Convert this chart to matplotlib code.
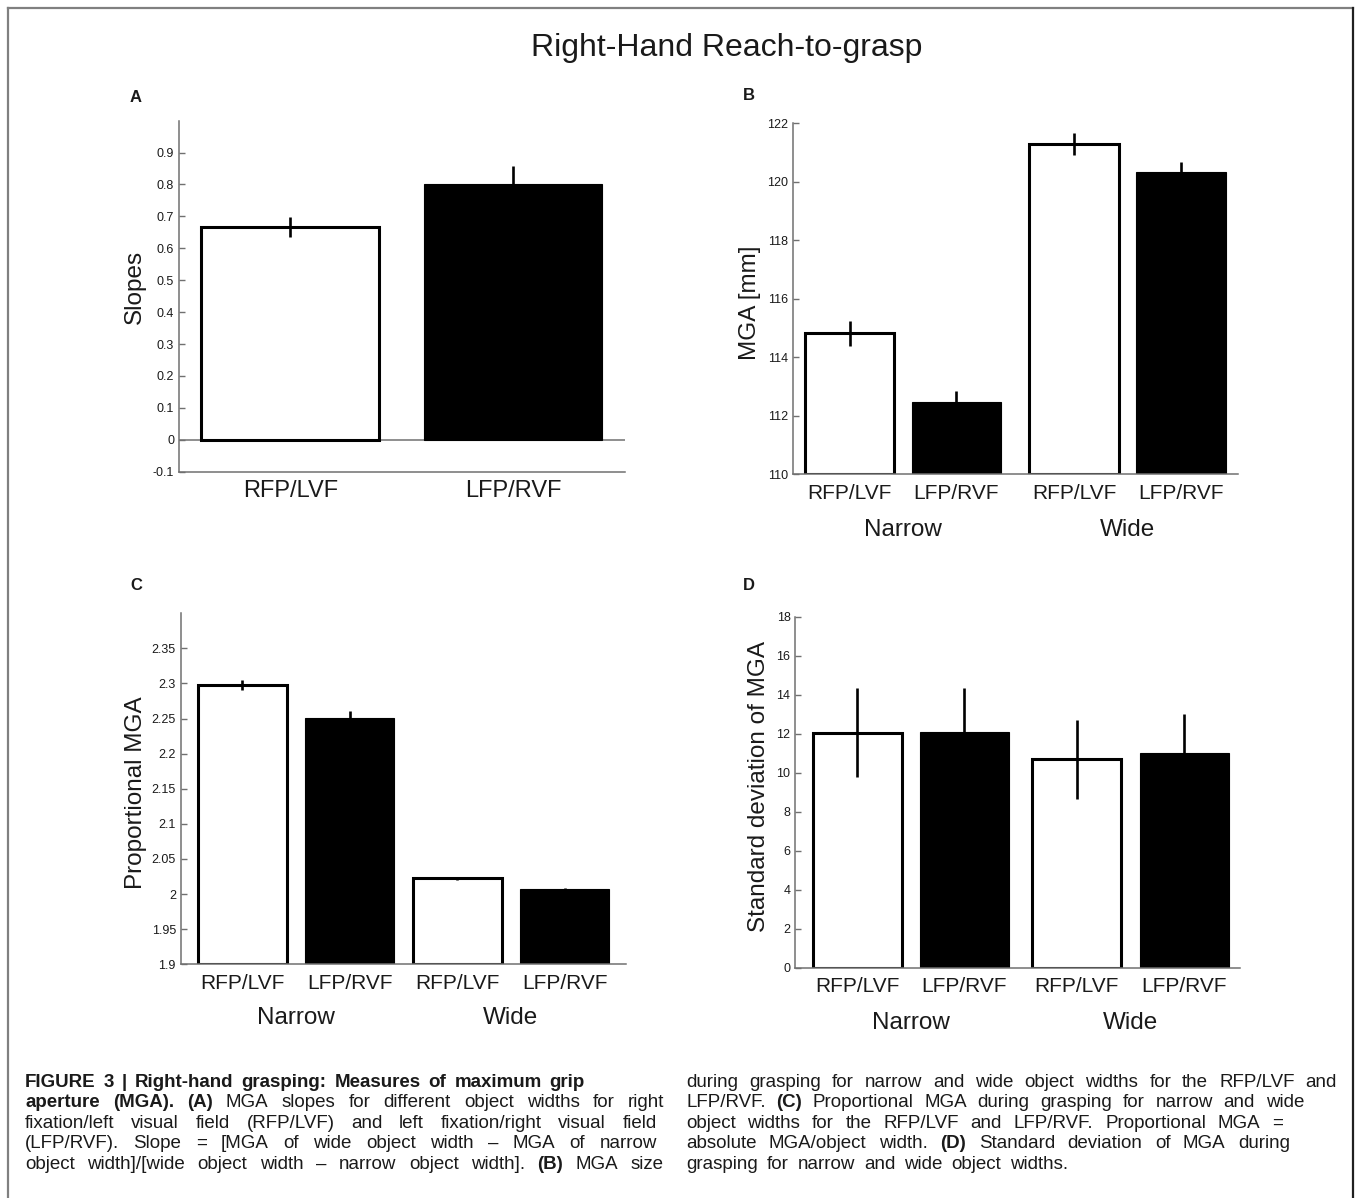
import numpy as np
import matplotlib
matplotlib.use('Agg')
import matplotlib.pyplot as plt
from matplotlib.transforms import IdentityTransform
from matplotlib.lines import Line2D

plt.rcParams['font.family'] = ['Liberation Sans', 'DejaVu Sans']

# Данные
cond_a = ['RFP/LVF', 'LFP/RVF']
slopes = [0.666, 0.803]
slopes_err = [0.032, 0.055]

cond_4 = ['RFP/LVF', 'LFP/RVF', 'RFP/LVF', 'LFP/RVF']
groups = ['Narrow', 'Wide']

mga = [114.82, 112.46, 121.29, 120.33]
mga_err = [0.42, 0.39, 0.38, 0.35]

prop_mga = [2.298, 2.251, 2.0225, 2.0066]
prop_mga_err = [0.007, 0.010, 0.002, 0.002]

sd_mga = [12.05, 12.09, 10.69, 10.99]
sd_mga_err = [2.28, 2.24, 2.03, 2.00]

ticks_a = [-0.1, 0, 0.1, 0.2, 0.3, 0.4, 0.5, 0.6, 0.7, 0.8, 0.9]
ticklabels_a = ['-0.1', '0', '0.1', '0.2', '0.3', '0.4', '0.5', '0.6', '0.7', '0.8', '0.9']
ticks_b = [110, 112, 114, 116, 118, 120, 122]
ticks_c = [1.9, 1.95, 2.0, 2.05, 2.1, 2.15, 2.2, 2.25, 2.3, 2.35]
ticklabels_c = ['1.9', '1.95', '2', '2.05', '2.1', '2.15', '2.2', '2.25', '2.3', '2.35']
ticks_d = [0, 2, 4, 6, 8, 10, 12, 14, 16, 18]

# Подпись к рисунку: (текст, жирный)
caption_left = [
    [('FIGURE 3 | Right-hand grasping: Measures of maximum grip', True)],
    [('aperture (MGA). (A)', True), ('MGA slopes for different object widths for right', False)],
    [('fixation/left visual field (RFP/LVF) and left fixation/right visual field', False)],
    [('(LFP/RVF). Slope = [MGA of wide object width \u2013 MGA of narrow', False)],
    [('object width]/[wide object width \u2013 narrow object width].', False), ('(B)', True), ('MGA size', False)],
]
caption_right = [
    [('during grasping for narrow and wide object widths for the RFP/LVF and', False)],
    [('LFP/RVF.', False), ('(C)', True), ('Proportional MGA during grasping for narrow and wide', False)],
    [('object widths for the RFP/LVF and LFP/RVF. Proportional MGA =', False)],
    [('absolute MGA/object width.', False), ('(D)', True), ('Standard deviation of MGA during', False)],
    [('grasping for narrow and wide object widths.', False)],
]

W, H, DPI = 1355, 1198, 100
fig = plt.figure(figsize=(W / DPI, H / DPI), dpi=DPI)

AX_GREY = '#707070'
TXT = '#1a1a1a'


def style_axes(ax):
    for s in ['top', 'right']:
        ax.spines[s].set_visible(False)
    for s in ['left', 'bottom']:
        ax.spines[s].set_color(AX_GREY)
        ax.spines[s].set_linewidth(1.1)
    ax.tick_params(axis='y', direction='in', length=4, width=1, color=AX_GREY,
                   labelsize=9, labelcolor=TXT, pad=3.5)
    ax.tick_params(axis='x', length=0, labelsize=15, labelcolor=TXT, pad=7)


def draw_bars(ax, pos, vals, errs, width, base):
    colors = ['white', 'black'] * (len(vals) // 2)
    for p, v, c in zip(pos, vals, colors):
        lw = 2.2 if c == 'white' else 0.8
        ax.bar(p, v - base, bottom=base, width=width,
               color=c, edgecolor='black', linewidth=lw, zorder=2)
    ax.errorbar(pos, vals, yerr=errs, fmt='none', ecolor='black',
                elinewidth=1.9, capsize=0, zorder=3)


def group_labels(ax, pos, y):
    for i, g in enumerate(groups):
        xc = (pos[2 * i] + pos[2 * i + 1]) / 2
        ax.text(xc, y, g, transform=ax.get_xaxis_transform(), ha='center',
                va='center', fontsize=17.5, color=TXT)


# A
axA = fig.add_axes([0.1321, 0.6063, 0.3288, 0.2930])
style_axes(axA)
axA.set_ylim(-0.1, 1.0)
axA.set_xlim(0.5, 2.5)
pos_a = [1, 2]
draw_bars(axA, pos_a, slopes, slopes_err, 0.8, 0)
axA.axhline(0, color=AX_GREY, linewidth=1.1, zorder=1)
axA.set_yticks(ticks_a, ticklabels_a)
axA.set_xticks(pos_a, cond_a)
axA.tick_params(axis='x', labelsize=17, pad=6)
axA.set_ylabel('Slopes', fontsize=17.5, va='center', color=TXT)
axA.yaxis.set_label_coords(-0.099, 0.526)

# B
axB = fig.add_axes([0.5851, 0.6041, 0.3288, 0.2930])
style_axes(axB)
axB.set_ylim(110, 122)
axB.set_xlim(0.47, 4.635)
pos_b = [1, 2, 3.1, 4.1]
draw_bars(axB, pos_b, mga, mga_err, 0.835, 110)
axB.set_yticks(ticks_b)
axB.set_xticks(pos_b, cond_4)
axB.set_ylabel('MGA [mm]', fontsize=17.5, va='center', color=TXT)
axB.yaxis.set_label_coords(-0.096, 0.488)
group_labels(axB, pos_b, -0.159)

# C
axC = fig.add_axes([0.1334, 0.1951, 0.3284, 0.2930])
style_axes(axC)
axC.set_ylim(1.9, 2.4)
axC.set_xlim(0.425, 4.57)
pos_c = [1, 2, 3, 4]
draw_bars(axC, pos_c, prop_mga, prop_mga_err, 0.83, 1.9)
axC.set_yticks(ticks_c, ticklabels_c)
axC.set_xticks(pos_c, cond_4)
axC.set_ylabel('Proportional MGA', fontsize=17.5, va='center', color=TXT)
axC.yaxis.set_label_coords(-0.101, 0.488)
group_labels(axC, pos_c, -0.154)

# D
axD = fig.add_axes([0.5870, 0.1922, 0.3278, 0.2930])
style_axes(axD)
axD.set_ylim(0, 18)
axD.set_xlim(0.423, 4.568)
pos_d = [1, 2, 3.05, 4.05]
draw_bars(axD, pos_d, sd_mga, sd_mga_err, 0.83, 0)
axD.set_yticks(ticks_d)
axD.set_xticks(pos_d, cond_4)
axD.set_ylabel('Standard deviation of MGA', fontsize=17.5, va='center', color=TXT)
axD.yaxis.set_label_coords(-0.081, 0.516)
group_labels(axD, pos_d, -0.156)

# Буквы панелей и заголовок
for letter, (px, py) in zip('ABCD', [(136, 97), (749, 96), (136, 585), (749, 585)]):
    fig.text(px / W, 1 - py / H, letter, fontsize=12, fontweight='bold',
             ha='center', va='center', color=TXT)
fig.text(727 / W, 1 - 48 / H, 'Right-Hand Reach-to-grasp', fontsize=23,
         ha='center', va='center', color=TXT)

# Рамка
frame_kw = dict(transform=IdentityTransform(), linewidth=1.6)
fig.add_artist(Line2D([8, 1353], [H - 8, H - 8], color='#808080', **frame_kw))
fig.add_artist(Line2D([8, 8], [0, H - 8], color='#808080', **frame_kw))
fig.add_artist(Line2D([1353, 1353], [0, H - 8], color='#202020', **frame_kw))

# Подпись к рисунку
renderer = fig.canvas.get_renderer()
CAP_SIZE = 13.5
NAT_GAP = CAP_SIZE * DPI / 72 * 0.3


def caption_line(x0, x1, ybase, segments):
    items = []
    total = 0
    for text, bold in segments:
        for word in text.split(' '):
            t = fig.text(0, 0, word, fontsize=CAP_SIZE, color=TXT,
                         fontweight='bold' if bold else 'normal',
                         transform=IdentityTransform(), va='baseline')
            w = t.get_window_extent(renderer).width
            items.append((t, w))
            total += w
    gap = NAT_GAP * 1.6
    if x1:
        gap = max((x1 - x0 - total) / (len(items) - 1), NAT_GAP)
    x = x0
    for t, w in items:
        t.set_position((x, H - ybase))
        x += w + gap


baselines = [1087, 1107, 1128, 1148, 1169]
right_left = [585, 664, 657, 657, 664]
right_right = [1337, 1304, 1283, 1290, None]
for segs, yb, x1 in zip(caption_left, baselines, right_left):
    caption_line(25, x1, yb, segs)
for segs, yb, x1 in zip(caption_right, baselines, right_right):
    caption_line(686, x1, yb, segs)

fig.savefig('out.png', dpi=DPI)
